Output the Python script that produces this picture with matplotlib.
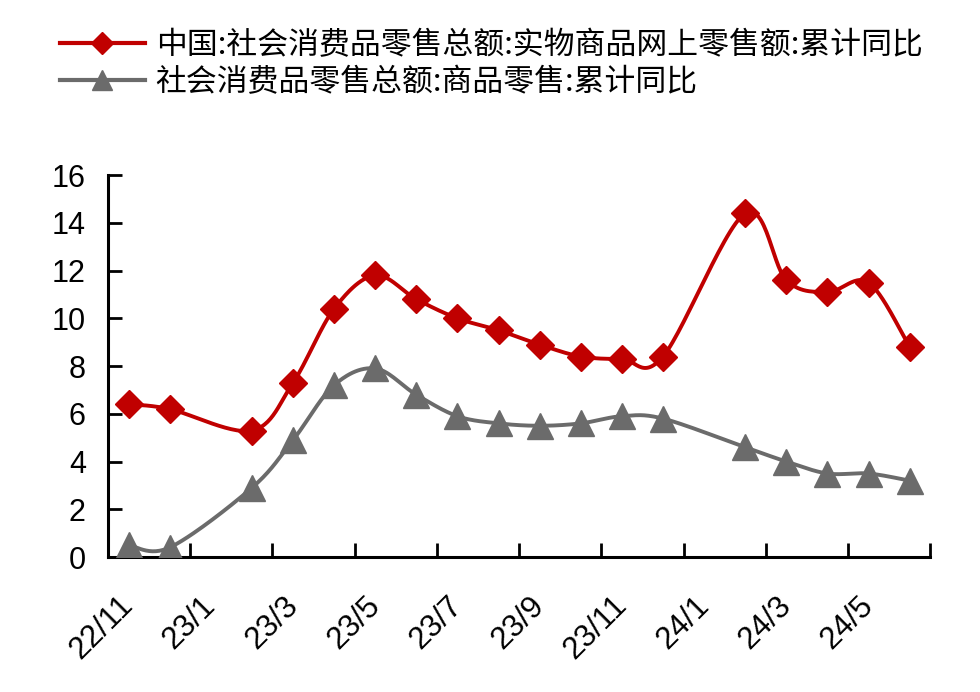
import numpy as np
import matplotlib.pyplot as plt
from matplotlib.lines import Line2D

plt.rcParams['font.family'] = ['Liberation Sans', 'DejaVu Sans']

months = ["22/11", "22/12", "23/1", "23/2", "23/3", "23/4", "23/5", "23/6", "23/7", "23/8",
          "23/9", "23/10", "23/11", "23/12", "24/1", "24/2", "24/3", "24/4", "24/5", "24/6"]
online = [6.4, 6.2, np.nan, 5.3, 7.3, 10.4, 11.8, 10.8, 10.0, 9.5,
          8.9, 8.4, 8.3, 8.4, np.nan, 14.4, 11.6, 11.1, 11.5, 8.8]
goods = [0.5, 0.4, np.nan, 2.9, 4.9, 7.2, 7.9, 6.8, 5.9, 5.6,
         5.5, 5.6, 5.9, 5.8, np.nan, 4.6, 4.0, 3.5, 3.5, 3.2]

name_online = "中国:社会消费品零售总额:实物商品网上零售额:累计同比"
name_goods = "社会消费品零售总额:商品零售:累计同比"

red = "#C00000"
gray = "#6B6B6B"


def smooth(x, y, n=30):
    # bezier smoothing through the points, like a spreadsheet "smoothed line"
    x = np.asarray(x, float)
    y = np.asarray(y, float)
    px = np.concatenate([[x[0]], x, [x[-1]]])
    py = np.concatenate([[y[0]], y, [y[-1]]])
    xs, ys = [], []
    t = np.linspace(0, 1, n)
    for i in range(1, len(px) - 2):
        p0 = np.array([px[i], py[i]])
        p3 = np.array([px[i + 1], py[i + 1]])
        c1 = p0 + (np.array([px[i + 1], py[i + 1]]) - np.array([px[i - 1], py[i - 1]])) / 6
        c2 = p3 - (np.array([px[i + 2], py[i + 2]]) - np.array([px[i], py[i]])) / 6
        b = ((1 - t) ** 3)[:, None] * p0 + (3 * (1 - t) ** 2 * t)[:, None] * c1 \
            + (3 * (1 - t) * t ** 2)[:, None] * c2 + (t ** 3)[:, None] * p3
        xs.extend(b[:, 0])
        ys.extend(b[:, 1])
    return np.array(xs), np.array(ys)


fig = plt.figure(figsize=(9.8, 6.92), dpi=100)
ax = fig.add_axes([0.1102, 0.195, 0.839, 0.552])

pos = np.arange(len(months))
for vals, color, marker, ms in [(goods, gray, "^", 19), (online, red, "D", 14)]:
    vals = np.array(vals)
    ok = ~np.isnan(vals)
    sx, sy = smooth(pos[ok], vals[ok])
    ax.plot(sx, sy, color=color, lw=2.8, zorder=2)
    ax.plot(pos[ok], vals[ok], ls="none", marker=marker, ms=ms, color=color,
            mec=color, zorder=3)

ax.set_xlim(-0.5, len(months) - 0.5)
ax.set_ylim(0, 16)
ax.set_yticks(np.arange(0, 17, 2))

# ticks on category borders, labels on every other category
# (label anchors nudged left so the rotated text ends under the category)
ax.set_xticks(np.arange(1.5, len(months), 2))
ax.set_xticklabels([])
ax.set_xticks(pos[::2] - 0.25, minor=True)
ax.set_xticklabels(months[::2], minor=True, rotation=45, ha="right", va="top",
                   rotation_mode="anchor", fontsize=22.5)
ax.tick_params(axis="x", which="minor", length=0, pad=24)
ax.tick_params(axis="x", which="major", direction="in", length=10, width=2)
ax.tick_params(axis="y", direction="in", length=10, width=2, labelsize=22, pad=16)

for s in ["top", "right"]:
    ax.spines[s].set_visible(False)
for s in ["left", "bottom"]:
    ax.spines[s].set_linewidth(2.2)

handles = [
    Line2D([], [], color=red, lw=3, marker="D", ms=11),
    Line2D([], [], color=gray, lw=3, marker="^", ms=15),
]
fig.legend(handles, [name_online, name_goods], loc="upper left",
           bbox_to_anchor=(60 / 980, 1 - 30 / 692), frameon=False,
           prop={"family": ["Noto Sans CJK SC", "DejaVu Sans"], "size": 22.2},
           handlelength=2.75, handletextpad=0.35, labelspacing=0.2,
           borderpad=0, borderaxespad=0)

fig.savefig("out.png", dpi=100)
